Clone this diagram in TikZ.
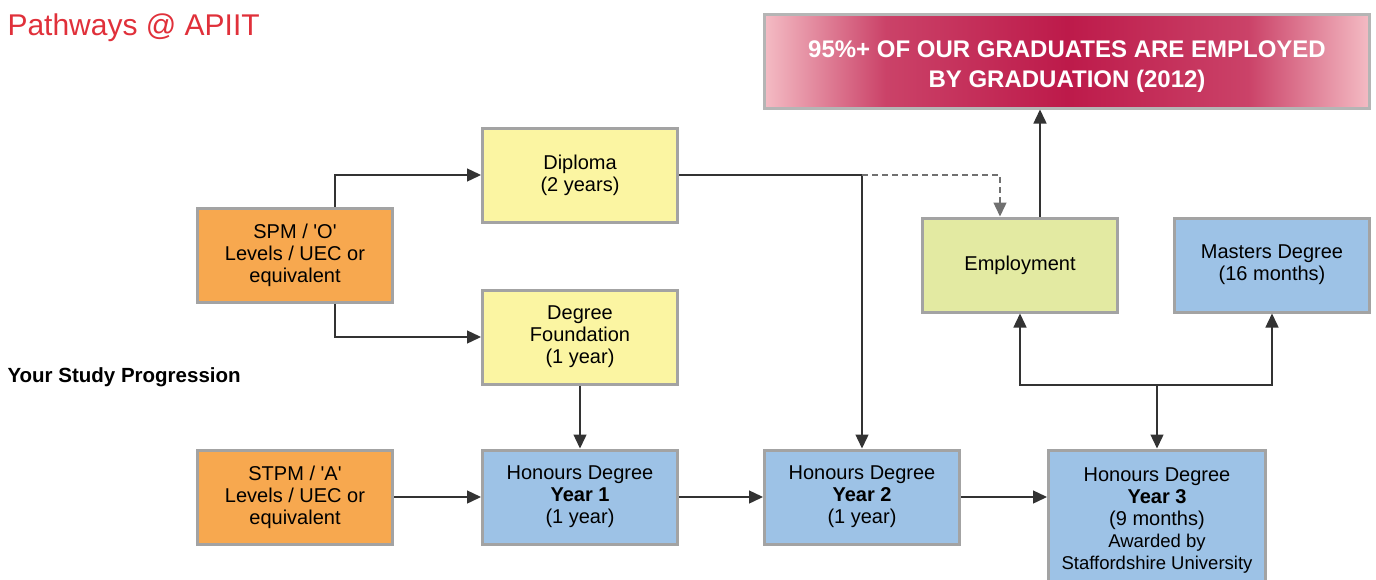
\documentclass[tikz,border=0pt]{standalone}
\usepackage{fontspec}
\setmainfont{Liberation Sans}[Ligatures=TeXOff]
\usetikzlibrary{arrows.meta}
\definecolor{entryorange}{HTML}{F7A84F}
\definecolor{prepyellow}{HTML}{FBF5A2}
\definecolor{honoursblue}{HTML}{9DC2E6}
\definecolor{employgreen}{HTML}{E3EAA2}
\definecolor{boxgray}{HTML}{A3A3A3}
\definecolor{linegray}{HTML}{333333}
\definecolor{titlered}{HTML}{E0303A}
\definecolor{bannerred}{HTML}{BD1A4A}
\definecolor{bannerpink}{HTML}{F4BCC4}
\pgfdeclarehorizontalshading{bannershade}{100bp}{color(0bp)=(bannerpink);
  color(25bp)=(bannerpink); color(35bp)=(bannerred!75!bannerpink);
  color(50bp)=(bannerred); color(65bp)=(bannerred!75!bannerpink);
  color(75bp)=(bannerpink); color(100bp)=(bannerpink)}
\tikzset{
  stage/.style={draw=boxgray, line width=3pt, minimum width=195pt, minimum height=94pt,
    align=center, inner sep=2pt, font=\fontsize{20}{22}\selectfont},
  entry/.style={stage, fill=entryorange},
  prep/.style={stage, fill=prepyellow},
  honours/.style={stage, fill=honoursblue},
  link/.style={line width=1.4pt, draw=linegray, -{Triangle[length=14pt,width=13pt]}},
}
\begin{document}
\begin{tikzpicture}[x=1pt,y=-1pt]
  \useasboundingbox (0,0) rectangle (1376,579);
  \node[anchor=west, text=titlered, font=\fontsize{30}{32}\selectfont] (title) at (4,28) {Pathways @ APIIT};
  \node[anchor=west, font=\bfseries\fontsize{20.5}{22}\selectfont] (progress) at (4,377) {Your Study Progression};
  \draw
    (295,255) node[entry] (spm) {SPM / 'O'\\Levels / UEC or\\equivalent}
    (295,497) node[entry] (stpm) {STPM / 'A'\\Levels / UEC or\\equivalent}
    (580,175) node[prep] (diploma) {Diploma\\(2 years)}
    (580,337) node[prep] (found) {Degree\\Foundation\\(1 year)}
    (580,497) node[honours] (year1) {Honours Degree\\\textbf{Year 1}\\(1 year)}
    (862,497) node[honours] (year2) {Honours Degree\\\textbf{Year 2}\\(1 year)}
    (1157,521) node[honours, minimum width=217pt, minimum height=142pt] (year3)
      {Honours Degree\\\textbf{Year 3}\\(9 months)\\{\fontsize{18.5}{21}\selectfont Awarded by}\\{\fontsize{18.5}{21}\selectfont Staffordshire University}}
    (1020,265) node[stage, fill=employgreen] (employ) {Employment}
    (1272,265) node[honours] (masters) {Masters Degree\\(16 months)};
  \node[draw=boxgray!80, line width=3pt, shading=bannershade, minimum width=605pt,
    minimum height=94pt, align=center, text=white, font=\bfseries\fontsize{24}{30}\selectfont]
    (banner) at (1067,61)
    {\rule{0pt}{27pt}95\%+ OF OUR GRADUATES ARE EMPLOYED\\BY GRADUATION (2012)};
  \coordinate (split) at (year2.north |- diploma.east);
  \coordinate (fork) at (1157,385);
  \begin{scope}[link]
    \draw ([xshift=40pt]spm.north) |- (diploma.west);
    \draw ([xshift=40pt]spm.south) |- (found.west);
    \draw (found.south) to (year1.north);
    \draw (stpm.east) to (year1.west);
    \draw (year1.east) to (year2.west);
    \draw (year2.east) to (year3.west |- year2.east);
    \draw (diploma.east) -| (year2.north);
    \draw[dash pattern=on 6pt off 4pt, draw=linegray!70] (split) -| ([xshift=-20pt]employ.north);
    \draw ([xshift=20pt]employ.north) to ([xshift=20pt]employ.north |- banner.south);
    \draw (fork) to (year3.north);
    \draw (fork) -| (employ.south);
    \draw (fork) -| (masters.south);
  \end{scope}
\end{tikzpicture}
\end{document}
